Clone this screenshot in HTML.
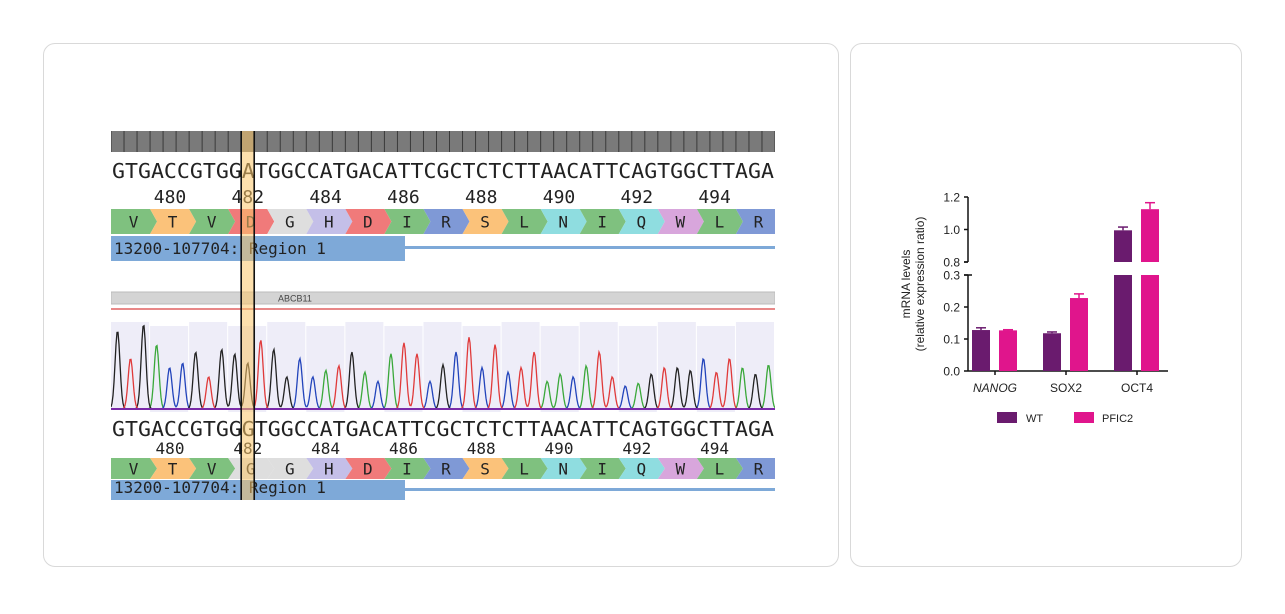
<!DOCTYPE html>
<html><head><meta charset="utf-8">
<style>
body{margin:0;width:1285px;height:614px;background:#fff;overflow:hidden;font-family:"Liberation Sans",sans-serif}
.card{position:absolute;border:1px solid #d9d9d9;border-radius:12px;background:#fff}
</style></head>
<body>
<div class="card" style="left:43px;top:43px;width:794px;height:522px"></div>
<div class="card" style="left:850px;top:43px;width:390px;height:522px"></div>
<svg id="seq" width="1285" height="614" style="position:absolute;left:0;top:0"></svg>
<svg id="chart" width="1285" height="614" style="position:absolute;left:0;top:0"></svg>
<script>
const seqTop = "GTGACCGTGGATGGCCATGACATTCGCTCTCTTAACATTCAGTGGCTTAGA";
const seqBot = "GTGACCGTGGGTGGCCATGACATTCGCTCTCTTAACATTCAGTGGCTTAGA";
const posLabels = ["480","482","484","486","488","490","492","494"];
const aaTop = ["V","T","V","D","G","H","D","I","R","S","L","N","I","Q","W","L","R"];
const aaBot = ["V","T","V","G","G","H","D","I","R","S","L","N","I","Q","W","L","R"];
const peakHeights = [0.85,0.55,0.92,0.7,0.45,0.5,0.62,0.35,0.65,0.6,0.5,0.75,0.65,0.35,0.55,0.35,0.42,0.47,0.62,0.4,0.3,0.6,0.72,0.6,0.3,0.48,0.62,0.78,0.45,0.7,0.4,0.45,0.62,0.3,0.38,0.35,0.47,0.62,0.35,0.25,0.28,0.38,0.45,0.45,0.42,0.55,0.4,0.55,0.45,0.38,0.48];
const NS="http://www.w3.org/2000/svg";
function mk(p,t,a){const e=document.createElementNS(NS,t);for(const k in a)e.setAttribute(k,a[k]);p.appendChild(e);return e;}
const S=document.getElementById('seq');
const x0=111,x1=775,nb=51,bw=(x1-x0)/nb;
const defs=mk(S,'defs',{});const cp=mk(defs,'clipPath',{id:'clipL'});mk(cp,'rect',{x:x0,y:0,width:x1-x0,height:614});
const G=mk(S,'g',{'clip-path':'url(#clipL)'});
const aaColors={V:"#7fc17f",T:"#fbc27a",D:"#f07a7a",G:"#dedede",H:"#c4bfe8",I:"#7fc17f",R:"#7f99d6",S:"#fbc27a",L:"#7fc17f",N:"#8fdde0",Q:"#8fdde0",W:"#d8a6dc"};
let r=mk(G,'rect',{x:x0,y:131,width:x1-x0,height:21,fill:'#7a7a7a'});

for(let i=0;i<=nb;i++)mk(G,'line',{x1:x0+i*bw,x2:x0+i*bw,y1:131,y2:152,stroke:'#3a3a3a','stroke-width':1});
function seqRow(txt,y,name){let t=mk(G,'text',{x:x0+1,y:y,'font-family':'Liberation Sans Narrow, DejaVu Sans Mono, monospace','font-size':20,textLength:x1-x0-2,lengthAdjust:'spacingAndGlyphs',fill:'#222'});t.textContent=txt;}
function posRow(y,fs){posLabels.forEach((p,i)=>{let t=mk(G,'text',{x:170+i*77.8,y:y,'text-anchor':'middle','font-family':'DejaVu Sans Mono, monospace','font-size':fs,fill:'#222'});t.textContent=p;});}
function aaRow(arr,y,h,name){const aw=3*bw;arr.forEach((a,i)=>{const xs=x0+i*aw,xe=xs+aw;const tip=7;
let pts=[[xs,y],[xe,y],[xe+tip,y+h/2],[xe,y+h],[xs,y+h],[xs+(i?tip:0),y+h/2]];
let p=mk(G,'polygon',{points:pts.map(q=>q.join(',')).join(' '),fill:aaColors[a]});

let t=mk(G,'text',{x:xs+aw/2+3,y:y+h/2+6,'text-anchor':'middle','font-family':'DejaVu Sans Mono, monospace','font-size':16,fill:'#222'});t.textContent=a;});}
function region(y,h,ly){let b=mk(G,'rect',{x:x0,y:y,width:294,height:h,fill:'#7ea9d8'});
mk(G,'rect',{x:405,y:ly,width:x1-405,height:3,fill:'#7ea9d8'});
let t=mk(G,'text',{x:x0+3,y:y+h-7,'font-family':'DejaVu Sans Mono, monospace','font-size':16,fill:'#222'});t.textContent="13200-107704: Region 1";}
seqRow(seqTop,178,'reference-sequence');posRow(203,18);aaRow(aaTop,209,25,'amino-acid-top');region(236,25,246);
let g=mk(G,'rect',{x:x0,y:292,width:x1-x0,height:12,fill:'#d4d4d4',stroke:'#bbb'});
let gt=mk(G,'text',{x:278,y:301.5,'font-size':9,fill:'#444'});gt.textContent="ABCB11";
mk(G,'line',{x1:x0,x2:x1,y1:309,y2:309,stroke:'#e06060','stroke-width':1.5});
for(let i=0;i<nb;i+=3)mk(G,'rect',{x:x0+i*bw,y:322+(i%6?4:0),width:bw*3-1,height:86,fill:'#eeedf8'});
const base=409,ph=92,colors={A:'#3aa83a',C:'#2244bb',G:'#222',T:'#e03a3a'};
['A','C','G','T'].forEach(B=>{let d='';for(let px=x0;px<=x1;px+=1){let v=0;for(let i=0;i<peakHeights.length&&i<nb;i++){if(seqBot[i]!==B)continue;const c=x0+i*bw+bw/2;v+=peakHeights[i]*Math.exp(-Math.pow((px-c)/3.4,2));}d+=(px===x0?'M':'L')+px+','+(base-v*ph).toFixed(1);}
let p=mk(G,'path',{d:d,fill:'none',stroke:colors[B],'stroke-width':1.3});});
mk(G,'line',{x1:x0,x2:x1,y1:base,y2:base,stroke:'#7a2aa8','stroke-width':2});
seqRow(seqBot,436,'sample-sequence');posRow(454,16);aaRow(aaBot,458,21,'amino-acid-bottom');region(480,20,488);
const hx=x0+10*bw;
let hc=mk(S,'rect',{x:hx,y:131,width:bw,height:369,fill:'#fbc66a',opacity:0.55});
mk(S,'line',{x1:hx,x2:hx,y1:131,y2:500,stroke:'#111','stroke-width':1.6});
mk(S,'line',{x1:hx+bw,x2:hx+bw,y1:131,y2:500,stroke:'#111','stroke-width':1.6});

// ===== bar chart =====
const categories=["NANOG","SOX2","OCT4"];
const wtValues=[0.128,0.118,0.995];
const pficValues=[0.127,0.228,1.125];
const wtErr=[0.007,0.004,0.02];
const pficErr=[0.002,0.013,0.04];
const lowTicks=["0.0","0.1","0.2","0.3"];
const highTicks=["0.8","1.0","1.2"];
const C=document.getElementById('chart');
const ax=968,axEnd=1168;
function yS(v){ if(v<=0.3) return 371-v*320; return 262-(v-0.8)*162.5; }
const WT='#6a1b6e',PF='#e0158c';
mk(C,'line',{x1:ax,x2:ax,y1:371,y2:275,stroke:'#111','stroke-width':1.5});
mk(C,'line',{x1:ax,x2:ax,y1:262,y2:197,stroke:'#111','stroke-width':1.5});
mk(C,'line',{x1:ax-4,x2:ax,y1:262,y2:262,stroke:'#111','stroke-width':1.5});
mk(C,'line',{x1:ax-4,x2:ax+4,y1:275,y2:275,stroke:'#111','stroke-width':1.5});
mk(C,'line',{x1:ax,x2:axEnd,y1:371,y2:371,stroke:'#111','stroke-width':1.5});
[...lowTicks,...highTicks].forEach(s=>{const v=parseFloat(s),y=yS(v);mk(C,'line',{x1:ax-4,x2:ax,y1:y,y2:y,stroke:'#111','stroke-width':1.5});
let t=mk(C,'text',{x:ax-8,y:y+4.5,'text-anchor':'end','font-size':12,fill:'#222'});t.textContent=s;});
const bwid=18,catW=71;
categories.forEach((c,i)=>{const cx=995+i*catW;
mk(C,'line',{x1:cx,x2:cx,y1:371,y2:375,stroke:'#111','stroke-width':1.5});
let t=mk(C,'text',{x:cx,y:392,'text-anchor':'middle','font-size':12,fill:'#222','font-style':i===0?'italic':'normal'});t.textContent=c;
[[wtValues[i],wtErr[i],cx-23,WT,'wt'],[pficValues[i],pficErr[i],cx+4,PF,'pfic2']].forEach(([v,e,bx,col,nm])=>{
const ey=yS(v+e);mk(C,'line',{x1:bx+bwid/2,x2:bx+bwid/2,y1:ey,y2:yS(v),stroke:col,'stroke-width':1.5});mk(C,'line',{x1:bx+4,x2:bx+bwid-4,y1:ey,y2:ey,stroke:col,'stroke-width':1.5});
if(v<=0.3){let b=mk(C,'rect',{x:bx,y:yS(v),width:bwid,height:371-yS(v),fill:col});}
else{let b=mk(C,'rect',{x:bx,y:275,width:bwid,height:96,fill:col});
let b2=mk(C,'rect',{x:bx,y:yS(v),width:bwid,height:262-yS(v),fill:col});}});});
let yt=mk(C,'text',{transform:'translate(910,284) rotate(-90)','text-anchor':'middle','font-size':12,fill:'#222'});yt.textContent="mRNA levels";
let yt2=mk(C,'text',{transform:'translate(924,284) rotate(-90)','text-anchor':'middle','font-size':12,fill:'#222'});yt2.textContent="(relative expression ratio)";
[['WT',997,WT,1026],['PFIC2',1074,PF,1102]].forEach(([n,sx,col,tx])=>{let s=mk(C,'rect',{x:sx,y:412,width:20,height:11,fill:col});
let t=mk(C,'text',{x:tx,y:422,'font-size':11,fill:'#222'});t.textContent=n;});
</script>
</body></html>
